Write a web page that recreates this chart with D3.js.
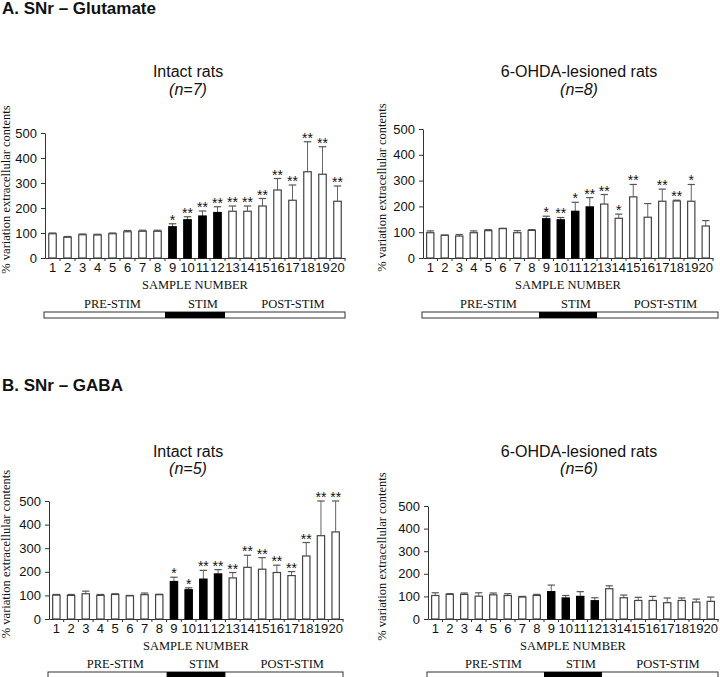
<!DOCTYPE html>
<html>
<head>
<meta charset="utf-8">
<script src="https://cdn.jsdelivr.net/npm/d3@7"></script>
<style>
body { margin: 0; background: #fff; }
svg text { fill: #111; }
</style>
</head>
<body>
<div id="chart"></div>
<script>
// categories / ticks
var samples = ["1","2","3","4","5","6","7","8","9","10","11","12","13","14","15","16","17","18","19","20"];
var yTicks = [0, 100, 200, 300, 400, 500];
var stimSamples = ["9", "10", "11", "12"];
var phases = ["PRE-STIM", "STIM", "POST-STIM"];

// A. glutamate, intact (n=7)
var gluIntactMean = [97, 83, 93, 92, 97, 105, 107, 107, 125, 153, 168, 182, 187, 187, 208, 272, 231, 345, 335, 227];
var gluIntactErr  = [3, 3, 3, 3, 3, 5, 4, 4, 12, 12, 20, 23, 21, 21, 30, 46, 61, 120, 110, 61];
var gluIntactSig  = ["","","","","","","","","*","**","**","**","**","**","**","**","**","**","**","**"];

// A. glutamate, 6-OHDA (n=8)
var gluLesionMean = [98, 88, 85, 98, 106, 114, 98, 107, 152, 148, 181, 198, 209, 154, 237, 158, 220, 221, 220, 124];
var gluLesionErr  = [7, 1, 6, 7, 4, 1, 8, 3, 10, 9, 35, 36, 37, 16, 48, 53, 47, 3, 65, 21];
var gluLesionSig  = ["","","","","","","","","*","**","*","**","**","*","**","","**","**","*",""];

// B. GABA, intact (n=5)
var gabaIntactMean = [101, 100, 107, 100, 104, 98, 103, 103, 159, 124, 169, 191, 174, 219, 211, 197, 184, 267, 353, 369];
var gabaIntactErr  = [3, 4, 11, 4, 3, 2, 7, 2, 18, 8, 37, 18, 23, 51, 49, 31, 17, 57, 147, 131];
var gabaIntactSig  = ["","","","","","","","","*","*","**","**","**","**","**","**","**","**","**","**"];

// B. GABA, 6-OHDA (n=6)
var gabaLesionMean = [104, 109, 109, 101, 107, 104, 97, 104, 121, 93, 100, 81, 134, 94, 82, 82, 72, 82, 75, 78];
var gabaLesionErr  = [12, 3, 6, 15, 8, 8, 3, 5, 29, 11, 21, 13, 13, 12, 14, 18, 21, 11, 13, 19];
var gabaLesionSig  = ["","","","","","","","","","","","","","","","","","","",""];

var W = 720, H = 677;
var svg = d3.select("#chart").append("svg").attr("width", W).attr("height", H);

var sans = "Arial, 'Liberation Sans', Helvetica, sans-serif";
var serif = "'Times New Roman', 'Liberation Serif', serif";

svg.append("text").attr("x", 2).attr("y", 14)
    .style("font-family", sans).style("font-size", "17px").style("font-weight", "bold")
    .text("A. SNr \u2013 Glutamate");
svg.append("text").attr("x", 2).attr("y", 391)
    .style("font-family", sans).style("font-size", "17px").style("font-weight", "bold")
    .text("B. SNr \u2013 GABA");

function panel(cfg) {
    var g = svg.append("g");

    var x = d3.scaleBand().domain(samples).range([cfg.left, cfg.right])
            .paddingInner(0.5).paddingOuter(0.25);
    var y = d3.scaleLinear().domain([0, 500]).range([cfg.bottom, cfg.top]);
    var half = x.step() / 2;

    // titles
    g.append("text").attr("x", cfg.tx).attr("y", cfg.ty)
            .attr("text-anchor", "middle")
            .style("font-family", sans).style("font-size", "16px")
            .text(cfg.title);
    g.append("text").attr("x", cfg.tx).attr("y", cfg.ty + cfg.gap)
            .attr("text-anchor", "middle")
            .style("font-family", sans).style("font-size", "16px").style("font-style", "italic")
            .text("(n=" + cfg.n + ")");

    // y axis
    var ya = g.append("g")
            .attr("transform", "translate(" + cfg.left + ",0)")
            .call(d3.axisLeft(y).tickValues(yTicks).tickSize(4).tickSizeOuter(0).tickPadding(4));
    ya.selectAll("text").style("font-family", sans).style("font-size", "13px").attr("fill", "#111");
    ya.selectAll("line, path").attr("stroke", "#333");

    g.append("text")
            .attr("transform", "translate(" + cfg.lx + "," + ((cfg.top + cfg.bottom) / 2 - 6) + ") rotate(-90)")
            .attr("text-anchor", "middle")
            .style("font-family", serif).style("font-size", "12.5px")
            .text("% variation extracellular contents");

    // x axis: labels at band centres, ticks on band boundaries
    var xa = g.append("g")
            .attr("transform", "translate(0," + cfg.bottom + ")")
            .call(d3.axisBottom(x).tickSize(0).tickSizeOuter(0).tickPadding(5));
    xa.selectAll("text").style("font-family", sans).style("font-size", "13px").attr("fill", "#111");
    xa.select(".domain").attr("stroke", "#333");
    g.append("g").selectAll("line")
            .data(samples)
            .enter()
            .append("line")
            .attr("x1", function (d) { return x(d) + x.bandwidth() / 2 + half; })
            .attr("x2", function (d) { return x(d) + x.bandwidth() / 2 + half; })
            .attr("y1", cfg.bottom)
            .attr("y2", cfg.bottom + 3)
            .attr("stroke", "#333");

    var data = samples.map(function (s, i) {
        return {clave: s, valor: cfg.mean[i], err: cfg.err[i], sig: cfg.sig[i],
                stim: stimSamples.indexOf(s) >= 0};
    });

    // error bars (upper half only)
    var eb = g.append("g").selectAll("g").data(data).enter().append("g");
    eb.append("line")
            .attr("x1", function (d) { return x(d.clave) + x.bandwidth() / 2; })
            .attr("x2", function (d) { return x(d.clave) + x.bandwidth() / 2; })
            .attr("y1", function (d) { return y(d.valor); })
            .attr("y2", function (d) { return y(d.valor + d.err); })
            .attr("stroke", "#666").attr("stroke-width", 1);
    eb.append("line")
            .attr("x1", function (d) { return x(d.clave); })
            .attr("x2", function (d) { return x(d.clave) + x.bandwidth(); })
            .attr("y1", function (d) { return y(d.valor + d.err); })
            .attr("y2", function (d) { return y(d.valor + d.err); })
            .attr("stroke", "#555").attr("stroke-width", 1.2);

    // bars
    g.append("g").selectAll("rect")
            .data(data)
            .enter()
            .append("rect")
            .attr("x", function (d) { return x(d.clave); })
            .attr("width", x.bandwidth())
            .attr("y", function (d) { return y(d.valor); })
            .attr("height", function (d) { return cfg.bottom - y(d.valor); })
            .attr("fill", function (d) { return d.stim ? "#000" : "#fff"; })
            .attr("stroke", function (d) { return d.stim ? "#000" : "#444"; })
            .attr("stroke-width", 1.2);

    // significance stars
    g.append("g").selectAll("text")
            .data(data)
            .enter()
            .append("text")
            .attr("x", function (d) { return x(d.clave) + x.bandwidth() / 2; })
            .attr("y", function (d) { return y(d.valor + d.err) + 1; })
            .attr("text-anchor", "middle")
            .style("font-family", sans).style("font-size", "14px")
            .text(function (d) { return d.sig; });

    g.append("text")
            .attr("x", (cfg.left + cfg.right) / 2).attr("y", cfg.bottom + 31)
            .attr("text-anchor", "middle")
            .style("font-family", serif).style("font-size", "12.5px")
            .text("SAMPLE NUMBER");

    // stimulation bar
    var bx0 = x(samples[0]) - x.bandwidth() / 2 - 1;
    var bx1 = x(samples[samples.length - 1]) + x.bandwidth() * 1.5 + cfg.barExtra;
    var sx0 = x(stimSamples[0]) - x.bandwidth() / 2;
    var sx1 = x(stimSamples[stimSamples.length - 1]) + x.bandwidth() * 1.5;
    var by = cfg.bottom + cfg.barOff;
    var segs = [[bx0, sx0], [sx0, sx1], [sx1, bx1]];
    g.append("rect").attr("x", bx0).attr("y", by).attr("width", bx1 - bx0).attr("height", 6)
            .attr("fill", "#fff").attr("stroke", "#333").attr("stroke-width", 1);
    g.append("rect").attr("x", sx0).attr("y", by).attr("width", sx1 - sx0).attr("height", 6)
            .attr("fill", "#000");
    g.append("g").selectAll("text")
            .data(phases)
            .enter()
            .append("text")
            .attr("x", function (d, i) { return (segs[i][0] + segs[i][1]) / 2 + 8; })
            .attr("y", by - 4)
            .attr("text-anchor", "middle")
            .style("font-family", serif).style("font-size", "12.5px")
            .text(function (d) { return d; });
}

panel({mean: gluIntactMean, err: gluIntactErr, sig: gluIntactSig, title: "Intact rats", n: 7,
    left: 45, right: 345, top: 133, bottom: 258, tx: 188, ty: 77, gap: 18, lx: 10, barOff: 54, barExtra: 0});
panel({mean: gluLesionMean, err: gluLesionErr, sig: gluLesionSig, title: "6-OHDA-lesioned rats", n: 8,
    left: 423, right: 713, top: 129, bottom: 258, tx: 579, ty: 77, gap: 18, lx: 386, barOff: 54, barExtra: 5});
panel({mean: gabaIntactMean, err: gabaIntactErr, sig: gabaIntactSig, title: "Intact rats", n: 5,
    left: 49, right: 343, top: 501, bottom: 619, tx: 188, ty: 457, gap: 17, lx: 10, barOff: 53, barExtra: 0});
panel({mean: gabaLesionMean, err: gabaLesionErr, sig: gabaLesionSig, title: "6-OHDA-lesioned rats", n: 6,
    left: 428, right: 718, top: 506, bottom: 619, tx: 579, ty: 457, gap: 17, lx: 386, barOff: 53, barExtra: 0});
</script>
</body>
</html>
